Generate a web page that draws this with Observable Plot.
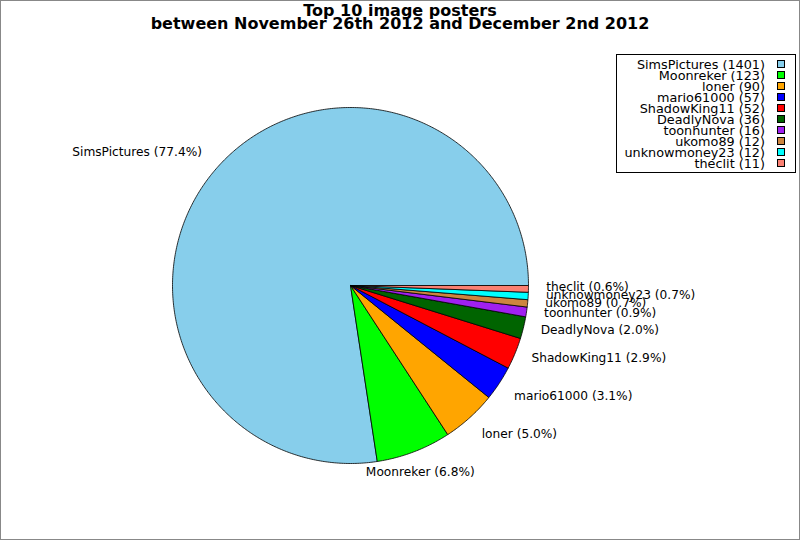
<!DOCTYPE html>
<html lang="en">
<head>
<meta charset="UTF-8">
<title>Top 10 image posters</title>
<script src="https://cdn.jsdelivr.net/npm/d3@7"></script>
<script src="https://cdn.jsdelivr.net/npm/@observablehq/plot@0.6"></script>
<style>
    body { margin: 0; background: #fff; font-family: "DejaVu Sans", sans-serif; }
    #wrap { position: relative; width: 800px; height: 540px; outline: 1px solid #888; outline-offset: -1px; overflow: hidden; }
    #title { position: absolute; left: 0; top: 4px; width: 800px; text-align: center; font-weight: bold; font-size: 16px; line-height: 13px; }
    #legend { position: absolute; left: 616px; top: 54px; width: 180px; height: 119px; box-sizing: border-box; border: 1px solid #000; background: #fff; font-size: 12.8px; padding-top: 3.5px; }
    .row { display: flex; justify-content: flex-end; align-items: center; height: 11.05px; padding-right: 10px; white-space: nowrap; }
    .sw { width: 6px; height: 6px; border: 1px solid #000; margin-left: 12px; }
</style>
</head>
<body>
<div id="wrap">
    <div id="chart"></div>
    <div id="title">Top 10 image posters<br>between November 26th 2012 and December 2nd 2012</div>
    <div id="legend"></div>
</div>

<script>
    // who posted, how many images, slice colour
    const posters = ["SimsPictures", "Moonreker", "loner", "mario61000", "ShadowKing11",
        "DeadlyNova", "toonhunter", "ukomo89", "unknowmoney23", "theclit"];
    const counts = [1401, 123, 90, 57, 52, 36, 16, 12, 12, 11];
    const colors = ["#87ceeb", "#00ff00", "#ffa500", "#0000ff", "#ff0000",
        "#006400", "#a020f0", "#cd853f", "#00ffff", "#fa8072"];

    const total = d3.sum(counts);

    // angles counterclockwise from 3 o'clock, like the original
    let acc = 0;
    const slices = posters.map((name, i) => {
        const a0 = acc / total * 2 * Math.PI;
        acc += counts[i];
        const a1 = acc / total * 2 * Math.PI;
        return { name, count: counts[i], pct: counts[i] / total * 100, a0, a1, color: colors[i] };
    });

    // each wedge as a closed outline: centre -> arc -> centre
    function wedge(s) {
        const n = Math.max(2, Math.ceil((s.a1 - s.a0) / 0.01));
        const pts = [{ x: 0, y: 0 }];
        for (let k = 0; k <= n; k++) {
            const a = s.a0 + (s.a1 - s.a0) * k / n;
            pts.push({ x: Math.cos(a), y: Math.sin(a) });
        }
        pts.push({ x: 0, y: 0 });
        return pts;
    }

    // labels sit at 1.1 r; alignment depends on where they fall round the pie
    const labels = slices.map(s => {
        const m = (s.a0 + s.a1) / 2;
        const c = Math.cos(m), sn = Math.sin(m);
        return {
            text: `${s.name} (${s.pct.toFixed(1)}%)`,
            x: 1.1 * c,
            y: 1.1 * sn,
            anchor: Math.abs(c) < 0.4 ? "middle" : c > 0 ? "start" : "end",
            dy: sn > 0.5 ? -5.5 : sn < -0.5 ? 3.5 : -2
        };
    });
    const groups = d3.groups(labels, d => d.anchor + "|" + d.dy);

    const R = 178; // pie radius in px
    const chart = Plot.plot({
        width: 800,
        height: 540,
        margin: 0,
        style: { fontFamily: "DejaVu Sans", fontSize: "12.2px", background: "transparent", color: "#000" },
        x: { domain: [-350 / R, 450 / R], axis: null },
        y: { domain: [-255 / R, 285 / R], axis: null },
        marks: [
            ...slices.map(s => Plot.line(wedge(s), {
                x: "x", y: "y", fill: s.color, stroke: "#000", strokeWidth: 0.8, strokeLinejoin: "miter"
            })),
            ...groups.map(([, g]) => Plot.text(g, {
                x: "x", y: "y", text: "text", textAnchor: g[0].anchor, dy: g[0].dy, fill: "#000"
            }))
        ]
    });
    document.querySelector("#chart").append(chart);

    // legend box
    const leg = document.querySelector("#legend");
    slices.forEach(s => {
        const row = document.createElement("div");
        row.className = "row";
        const t = document.createElement("span");
        t.textContent = `${s.name} (${s.count})`;
        const sw = document.createElement("span");
        sw.className = "sw";
        sw.style.background = s.color;
        row.append(t, sw);
        leg.append(row);
    });
</script>
</body>
</html>
